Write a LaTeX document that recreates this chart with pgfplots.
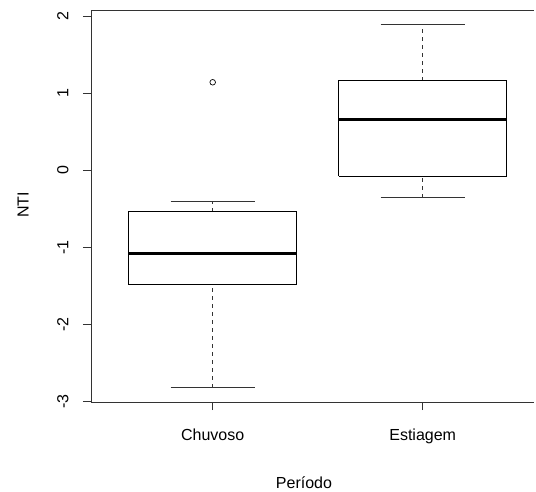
\documentclass[border=0pt]{standalone}
\usepackage{pgfplots}
\pgfplotsset{compat=1.18}
\usepackage{fontspec}
\setmainfont{Liberation Sans}
\begin{document}
\begin{tikzpicture}
\begin{axis}[
  at={(0,0)}, anchor=south west,
  scale only axis, width=443pt, height=392pt,
  xmin=0.4205, xmax=2.530, ymin=-3.004, ymax=2.078,
  axis x line=box, axis y line=left,
  axis line style={-, line width=0.8pt, black!80},
  xtick pos=bottom, ytick pos=left,
  tick align=outside, major tick length=8pt,
  tick style={line width=0.8pt, black!80},
  xtick={1,2}, xticklabels={Chuvoso,Estiagem},
  ytick={-3,-2,-1,0,1,2}, yticklabels={-3,-2,-1,0,1,2},
  yticklabel style={rotate=90, anchor=south, font=\fontsize{16}{19}\selectfont},
  xticklabel style={anchor=north, font=\fontsize{16}{19}\selectfont},
  xticklabel shift=15pt,
  yticklabel shift=11pt,
  clip=false,
]
% whiskers (dashed)
\addplot[black!80, line width=0.9pt, dash pattern=on 4pt off 4pt] coordinates {(1,-2.82) (1,-1.481)};
\addplot[black!80, line width=0.9pt, dash pattern=on 4pt off 4pt] coordinates {(1,-0.538) (1,-0.402)};
\addplot[black!80, line width=0.9pt, dash pattern=on 4pt off 4pt] coordinates {(2,-0.355) (2,-0.074)};
\addplot[black!80, line width=0.9pt, dash pattern=on 4pt off 4pt] coordinates {(2,1.162) (2,1.897)};
% whisker caps
\addplot[black!80, line width=0.9pt] coordinates {(0.8,-2.82) (1.2,-2.82)};
\addplot[black!80, line width=0.9pt] coordinates {(0.8,-0.402) (1.2,-0.402)};
\addplot[black!80, line width=0.9pt] coordinates {(1.8,-0.355) (2.2,-0.355)};
\addplot[black!80, line width=0.9pt] coordinates {(1.8,1.897) (2.2,1.897)};
% boxes
\addplot[black, line width=0.9pt, line join=miter] coordinates {(0.6,-1.481) (1.4,-1.481) (1.4,-0.538) (0.6,-0.538) (0.6,-1.481)};
\addplot[black, line width=0.9pt, line join=miter] coordinates {(1.6,-0.074) (2.4,-0.074) (2.4,1.162) (1.6,1.162) (1.6,-0.074)};
% medians
\addplot[black, line width=3pt] coordinates {(0.6,-1.078) (1.4,-1.078)};
\addplot[black, line width=3pt] coordinates {(1.6,0.652) (2.4,0.652)};
% outlier
\addplot[only marks, mark=o, mark size=2.8pt, black, mark options={line width=0.7pt}] coordinates {(1,1.141)};
\end{axis}
\node[rotate=90, anchor=center, font=\fontsize{16}{19}\selectfont] at (-68pt,197pt) {NTI};
\node[anchor=base, font=\fontsize{16}{19}\selectfont] at (213pt,-86pt) {Período};
\pgfresetboundingbox
\path (-91pt,-89pt) rectangle (445pt,402pt);
\end{tikzpicture}
\end{document}
